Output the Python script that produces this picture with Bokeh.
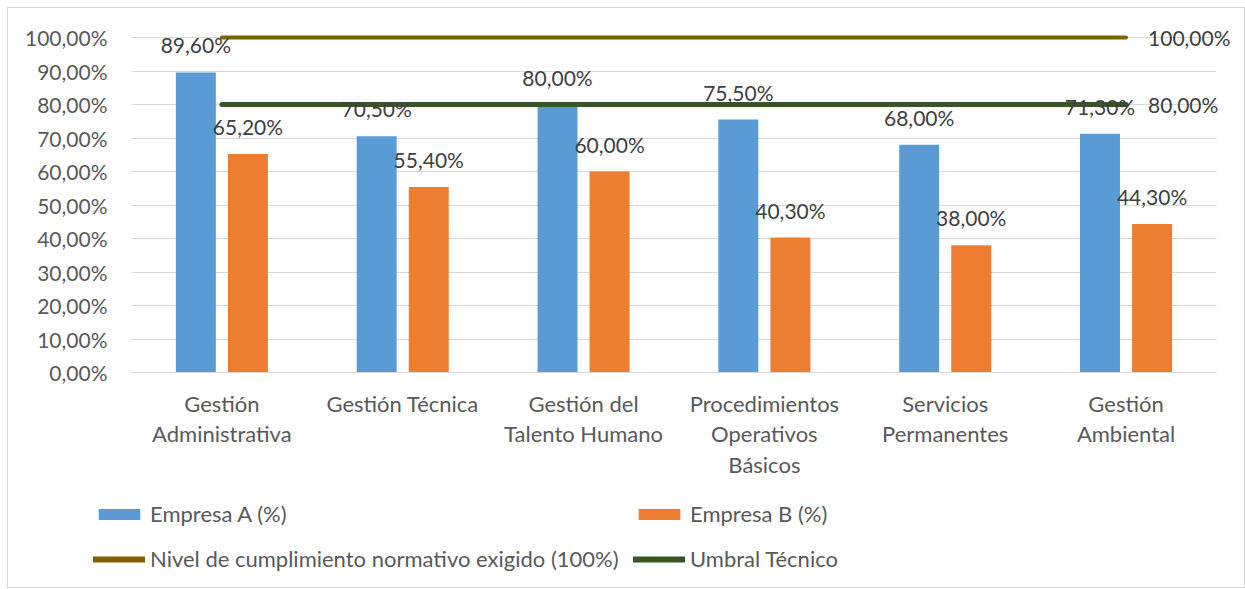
from bokeh.plotting import figure
from bokeh.layouts import column
from bokeh.models import (ColumnDataSource, Range1d, LabelSet, Legend,
                          LegendItem, FixedTicker)
from bokeh.transform import dodge
from bokeh.core.properties import value
from bokeh.embed import file_html
from bokeh.resources import INLINE

categories = ["Gestión\nAdministrativa", "Gestión Técnica", "Gestión del\nTalento Humano",
              "Procedimientos\nOperativos\nBásicos", "Servicios\nPermanentes", "Gestión\nAmbiental"]
empresa_a = [89.6, 70.5, 80.0, 75.5, 68.0, 71.3]
empresa_b = [65.2, 55.4, 60.0, 40.3, 38.0, 44.3]
nivel_exigido = [100.0, 100.0, 100.0, 100.0, 100.0, 100.0]
umbral_tecnico = [80.0, 80.0, 80.0, 80.0, 80.0, 80.0]
y_ticks = [0, 10, 20, 30, 40, 50, 60, 70, 80, 90, 100]
y_tick_labels = ["0,00%", "10,00%", "20,00%", "30,00%", "40,00%", "50,00%",
                 "60,00%", "70,00%", "80,00%", "90,00%", "100,00%"]
series_names = ["Empresa A (%)", "Empresa B (%)",
                "Nivel de cumplimiento normativo exigido (100%)", "Umbral Técnico"]


def fmt(v):
    return f"{v:.2f}".replace(".", ",") + "%"


FONT = "Lato"
FS = "21px"
FS_TXT = "22px"
AX_COL = "#595959"
LBL_COL = "#404040"
BLUE = "#5B9BD5"
ORANGE = "#ED7D31"
GOLD = "#7F6000"
GREEN = "#375623"
W = 1236

pos = list(range(len(categories)))
n = len(categories)

src = ColumnDataSource(dict(
    x=pos, a=empresa_a, b=empresa_b,
    n=nivel_exigido, u=umbral_tecnico,
    la=[fmt(v) for v in empresa_a], lb=[fmt(v) for v in empresa_b],
))

# frame spans from the legend's left edge to past the right-hand labels;
# grid lines and the category axis are bounded to the categories
p = figure(width=W, height=478, x_range=Range1d(-0.5 - 0.210, n - 0.5 + 0.133),
           y_range=Range1d(0, 103.6), output_backend="svg", toolbar_location=None,
           min_border_left=85, min_border_right=4, min_border_top=17,
           min_border_bottom=114)
p.outline_line_color = None
p.background_fill_color = "white"
p.border_fill_color = "white"

OFF = 0.144
BW = 0.221
p.vbar(x=dodge("x", -OFF), top="a", width=BW, source=src, fill_color=BLUE, line_color=None)
p.vbar(x=dodge("x", OFF), top="b", width=BW, source=src, fill_color=ORANGE, line_color=None)
p.line(x="x", y="n", source=src, line_color=GOLD, line_width=4, line_cap="round")
p.line(x="x", y="u", source=src, line_color=GREEN, line_width=5, line_cap="round")

for col, lab, off in (("a", "la", -OFF), ("b", "lb", OFF)):
    p.add_layout(LabelSet(x=dodge("x", off), y=col, text=lab, source=src,
                          text_align="center", text_baseline="alphabetic", y_offset=19,
                          text_font=value(FONT), text_font_size=value(FS),
                          text_color=LBL_COL))

end_src = ColumnDataSource(dict(
    x=[pos[-1], pos[-1]],
    y=[nivel_exigido[-1], umbral_tecnico[-1]],
    t=[fmt(nivel_exigido[-1]), fmt(umbral_tecnico[-1])],
))
p.add_layout(LabelSet(x="x", y="y", text="t", source=end_src, text_align="left",
                      text_baseline="middle", x_offset=22, text_font=value(FONT),
                      text_font_size=value(FS), text_color=LBL_COL))

# axes
p.yaxis.ticker = FixedTicker(ticks=y_ticks)
p.yaxis.major_label_overrides = {t: l for t, l in zip(y_ticks, y_tick_labels)}
p.yaxis.axis_line_color = None
p.yaxis.major_tick_line_color = None
p.yaxis.minor_tick_line_color = None
p.yaxis.major_label_standoff = -20
p.yaxis.major_label_text_font_size = FS
p.xaxis.ticker = FixedTicker(ticks=pos)
p.xaxis.major_label_overrides = {i: c for i, c in zip(pos, categories)}
p.xaxis.bounds = (-0.5, n - 0.5)
p.xaxis.major_label_text_font_size = FS_TXT
for ax in (p.xaxis, p.yaxis):
    ax.major_label_text_font = FONT
    ax.major_label_text_color = AX_COL
p.xaxis.axis_line_color = "#D9D9D9"
p.xaxis.major_tick_line_color = None
p.xaxis.minor_tick_line_color = None
p.xaxis.major_tick_out = 0
p.xaxis.major_label_standoff = 17
p.xaxis.major_label_text_line_height = 1.14
p.xgrid.grid_line_color = None
p.ygrid.grid_line_color = "#D9D9D9"
p.ygrid.grid_line_width = 1
p.ygrid.ticker = FixedTicker(ticks=y_ticks)
p.ygrid.cross_bounds = (-0.5, n - 0.5)

# legend panel: same series styles, drawn outside this panel's visible range
lf = figure(width=W, height=101, x_range=Range1d(100, 101), y_range=Range1d(100, 101),
            output_backend="svg", toolbar_location=None, min_border=0)
lf.axis.visible = False
lf.grid.visible = False
lf.outline_line_color = None
ga = lf.vbar(x="x", top="a", width=BW, source=src, fill_color=BLUE, line_color=None)
gb = lf.vbar(x="x", top="b", width=BW, source=src, fill_color=ORANGE, line_color=None)
gn = lf.line(x="x", y="n", source=src, line_color=GOLD, line_width=6, line_cap="round")
gu = lf.line(x="x", y="u", source=src, line_color=GREEN, line_width=6, line_cap="round")

common = dict(orientation="horizontal", padding=0, margin=0, spacing=5,
              glyph_width=52, glyph_height=14, label_height=14, label_width=478,
              label_standoff=5, label_text_font=FONT, label_text_font_size=FS_TXT,
              label_text_color=AX_COL, border_line_color=None, background_fill_alpha=0)
leg1 = Legend(items=[LegendItem(label=series_names[0], renderers=[ga]),
                     LegendItem(label=series_names[1], renderers=[gb])],
              location=(0, 60), **common)
leg2 = Legend(items=[LegendItem(label=series_names[2], renderers=[gn]),
                     LegendItem(label=series_names[3], renderers=[gu])],
              location=(0, 15), **common)
lf.add_layout(leg1, "center")
lf.add_layout(leg2, "center")

layout = column(p, lf, spacing=0)
layout.styles = {"border": "1px solid #D9D9D9", "margin-left": "7px", "margin-top": "7px"}

open("out.html", "w").write(file_html(layout, INLINE))
